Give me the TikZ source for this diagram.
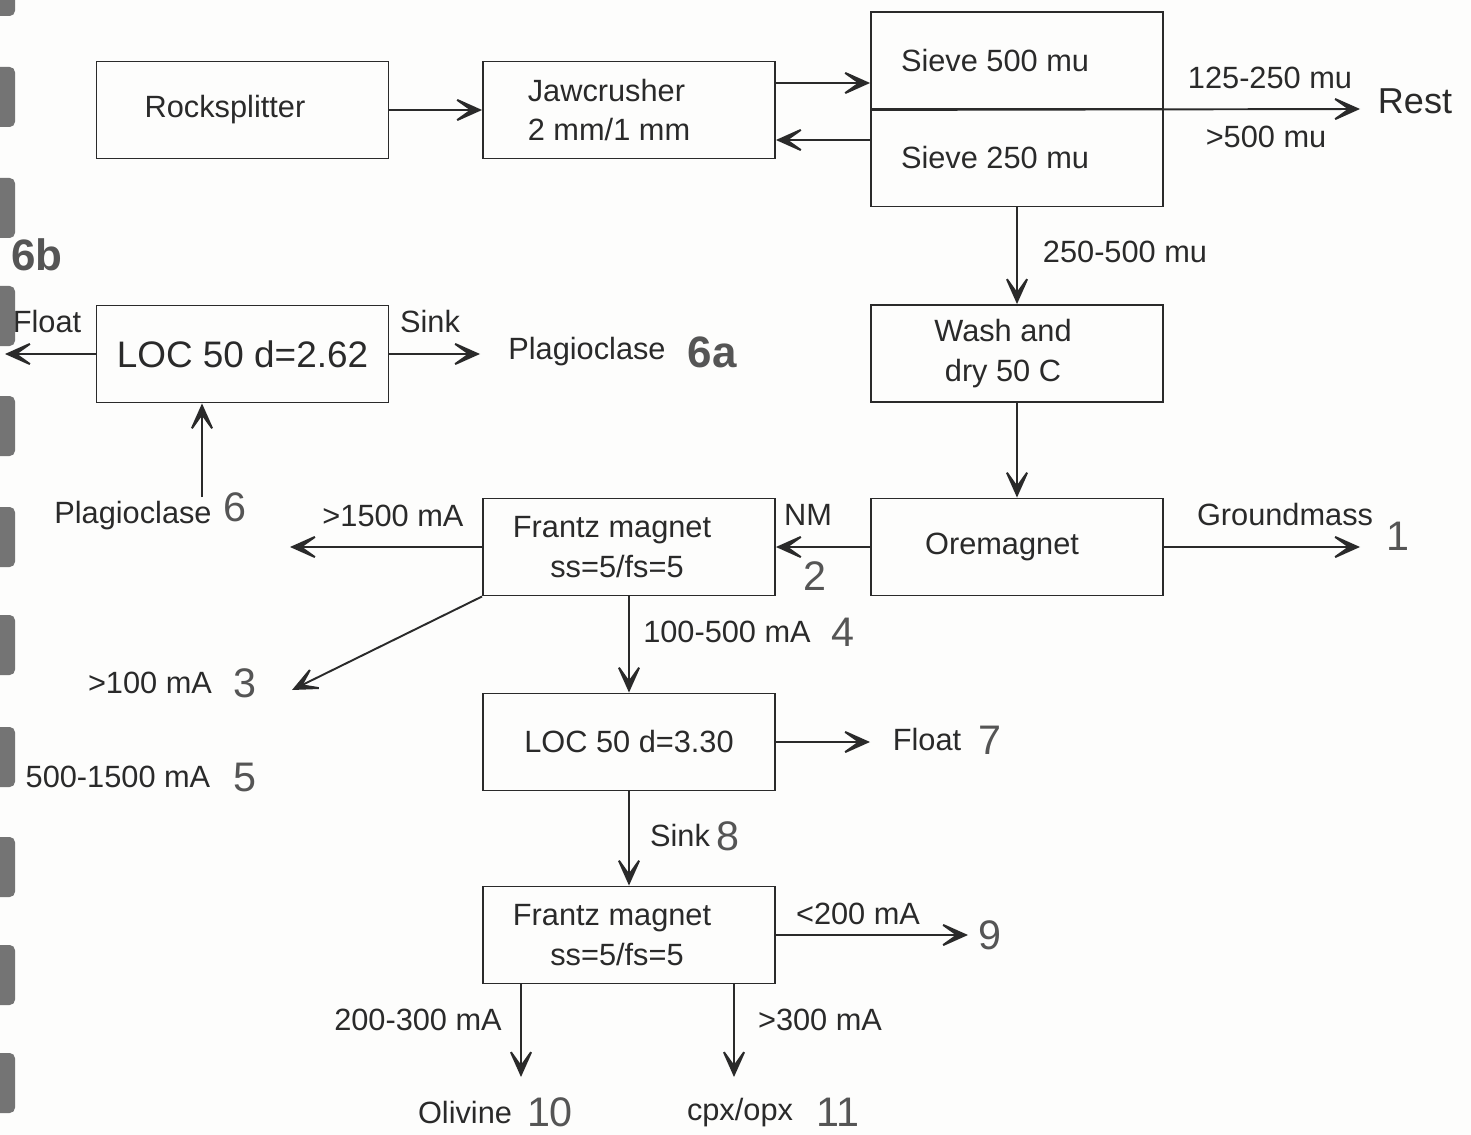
\documentclass[tikz,border=0pt]{standalone}
\usepackage{fontspec}
\setmainfont{Liberation Sans}
\usetikzlibrary{arrows.meta,calc}
\definecolor{ink}{HTML}{2A2A2A}
\definecolor{numc}{HTML}{555555}
\definecolor{paper}{HTML}{FDFDFC}
\definecolor{blob}{HTML}{747474}
\begin{document}
\begin{tikzpicture}[x=0.02cm,y=-0.02cm,
  every node/.style={font=\fontsize{17.5}{22.5}\selectfont, text=ink, inner sep=0pt},
  box/.style={draw=ink, line width=1.1pt, minimum width=5.84cm, minimum height=1.94cm, align=center},
  arr/.style={draw=ink, line width=1.1pt, -{Stealth[length=19pt,width=17pt,inset=12pt]}},
  big/.style={font=\fontsize{23.5}{25}\selectfont, text=numc},
  bigb/.style={font=\fontsize{25}{27}\selectfont\bfseries, text=numc}
]
\fill[paper] (0,0) rectangle (1471,1135);
\useasboundingbox (0,0) rectangle (1471,1135);
% scan artefacts at the left edge
\fill[blob, rounded corners=3pt] (-6,-6) rectangle (15,16);
\foreach \yy in {67,178,286,396,507,615,727,837,945,1053}
  \fill[blob, rounded corners=3pt] (-6,\yy) rectangle (15,\yy+60);

% boxes
\node[box] (rock) at (242.5,110) {\hspace*{-0.7cm}Rocksplitter};
\node[box, align=left] (jaw) at (629,110) {\hspace*{-0.8cm}Jawcrusher\\\hspace*{-0.8cm}2 mm/1 mm};
\node[box] (sieveA) at (1017,60.5) {\hspace*{-0.88cm}Sieve 500 mu};
\node[box] (sieveB) at (1017,158) {\hspace*{-0.88cm}Sieve 250 mu};
\node[box] (wash) at (1017,353.5) {\hspace*{-0.56cm}Wash and\\\hspace*{-0.56cm}dry 50 C};
\node[box] (ore) at (1017,547) {\hspace*{-0.6cm}Oremagnet};
\node[box] (fr1) at (629,547) {\hspace*{-0.68cm}Frantz magnet\\\hspace*{-0.48cm}ss=5/fs=5};
\node[box] (loc2) at (629,742) {LOC 50 d=3.30};
\node[box] (fr2) at (629,935) {\hspace*{-0.68cm}Frantz magnet\\\hspace*{-0.48cm}ss=5/fs=5};
\node[box, font=\fontsize{21}{24}\selectfont] (loc1) at (242.5,354) {LOC 50 d=2.62};

% free ends
\coordinate (restend) at (1360,109);
\coordinate (gmend) at (1360,547);
\coordinate (f1l) at (290,547);
\coordinate (f1d) at (292,690);
\coordinate (floatend) at (870,742);
\coordinate (f2r) at (968,935);
\coordinate (olend) at (521,1077);
\coordinate (cxend) at (734,1077);
\coordinate (sinkend) at (480,354);
\coordinate (floatL) at (5,354);
\coordinate (pl6) at (202,497);
\coordinate (j1) at ($(jaw.east)+(0,-27)$);
\coordinate (j2) at ($(jaw.east)+(0,30)$);

% connectors
\draw[arr] (rock) -- (jaw);
\draw[arr] (j1) -- (j1 -| sieveA.west);
\draw[arr] (j2 -| sieveB.west) -- (j2);
\draw[arr] (sieveA.south west) -- (restend);
\draw[arr] (sieveB.south) -- (wash.north);
\draw[arr] (wash) -- (ore);
\draw[arr] (ore.east) -- (gmend);
\draw[arr] (ore.west) -- (fr1.east);
\draw[arr] (fr1.west) -- (f1l);
\draw[arr] (fr1.south west) -- (f1d);
\draw[arr] (fr1.south) -- (loc2.north);
\draw[arr] (loc2.east) -- (floatend);
\draw[arr] (loc2) -- (fr2);
\draw[arr] (fr2.east) -- (f2r);
\draw[arr] (fr2.south -| olend) -- (olend);
\draw[arr] (fr2.south -| cxend) -- (cxend);
\draw[arr] (loc1.east) -- (sinkend);
\draw[arr] (loc1.west) -- (floatL);
\draw[arr] (pl6) -- (loc1.south -| pl6);

% labels
\node (l125) at (1270,78) {125-250 mu};
\node (l500) at (1266,137) {>500 mu};
\node[font=\fontsize{20.5}{23}\selectfont] (rest) at (1415,101) {Rest};
\node (l250) at (1125,252) {250-500 mu};
\node (lgm) at (1285,515) {Groundmass};
\node[big] (n1) at (1398,536) {1};
\node (lnm) at (808,515) {NM};
\node[big] (n2) at (815,576) {2};
\node (l1500) at (393,516) {>1500 mA};
\node (l100) at (150,683) {>100 mA};
\node[big] (n3) at (245,683) {3};
\node (l5001500) at (118,777) {500-1500 mA};
\node[big] (n5) at (245,777) {5};
\node (l100500) at (727,632) {100-500 mA};
\node[big] (n4) at (843,632) {4};
\node (lfloat) at (927,740) {Float};
\node[big] (n7) at (990,740) {7};
\node (lsink) at (680,836) {Sink};
\node[big] (n8) at (728,836) {8};
\node (l200) at (858,914) {<200 mA};
\node[big] (n9) at (990,935) {9};
\node (l200300) at (418,1020) {200-300 mA};
\node (l300) at (820,1020) {>300 mA};
\node (lol) at (465,1113) {Olivine};
\node[big] (n10) at (550,1112) {10};
\node (lcx) at (740,1113) {cpx/opx};
\node[big] (n11) at (838,1112) {11};
\node (lsink1) at (430,322) {Sink};
\node (lplag) at (587,352) {Plagioclase};
\node[bigb] (n6a) at (712,352) {6a};
\node (lfloat1) at (47,322) {Float};
\node[bigb] (n6b) at (37,255) {6b};
\node (lplag6) at (133,516) {Plagioclase};
\node[big] (n6) at (235,507) {6};
\end{tikzpicture}
\end{document}
